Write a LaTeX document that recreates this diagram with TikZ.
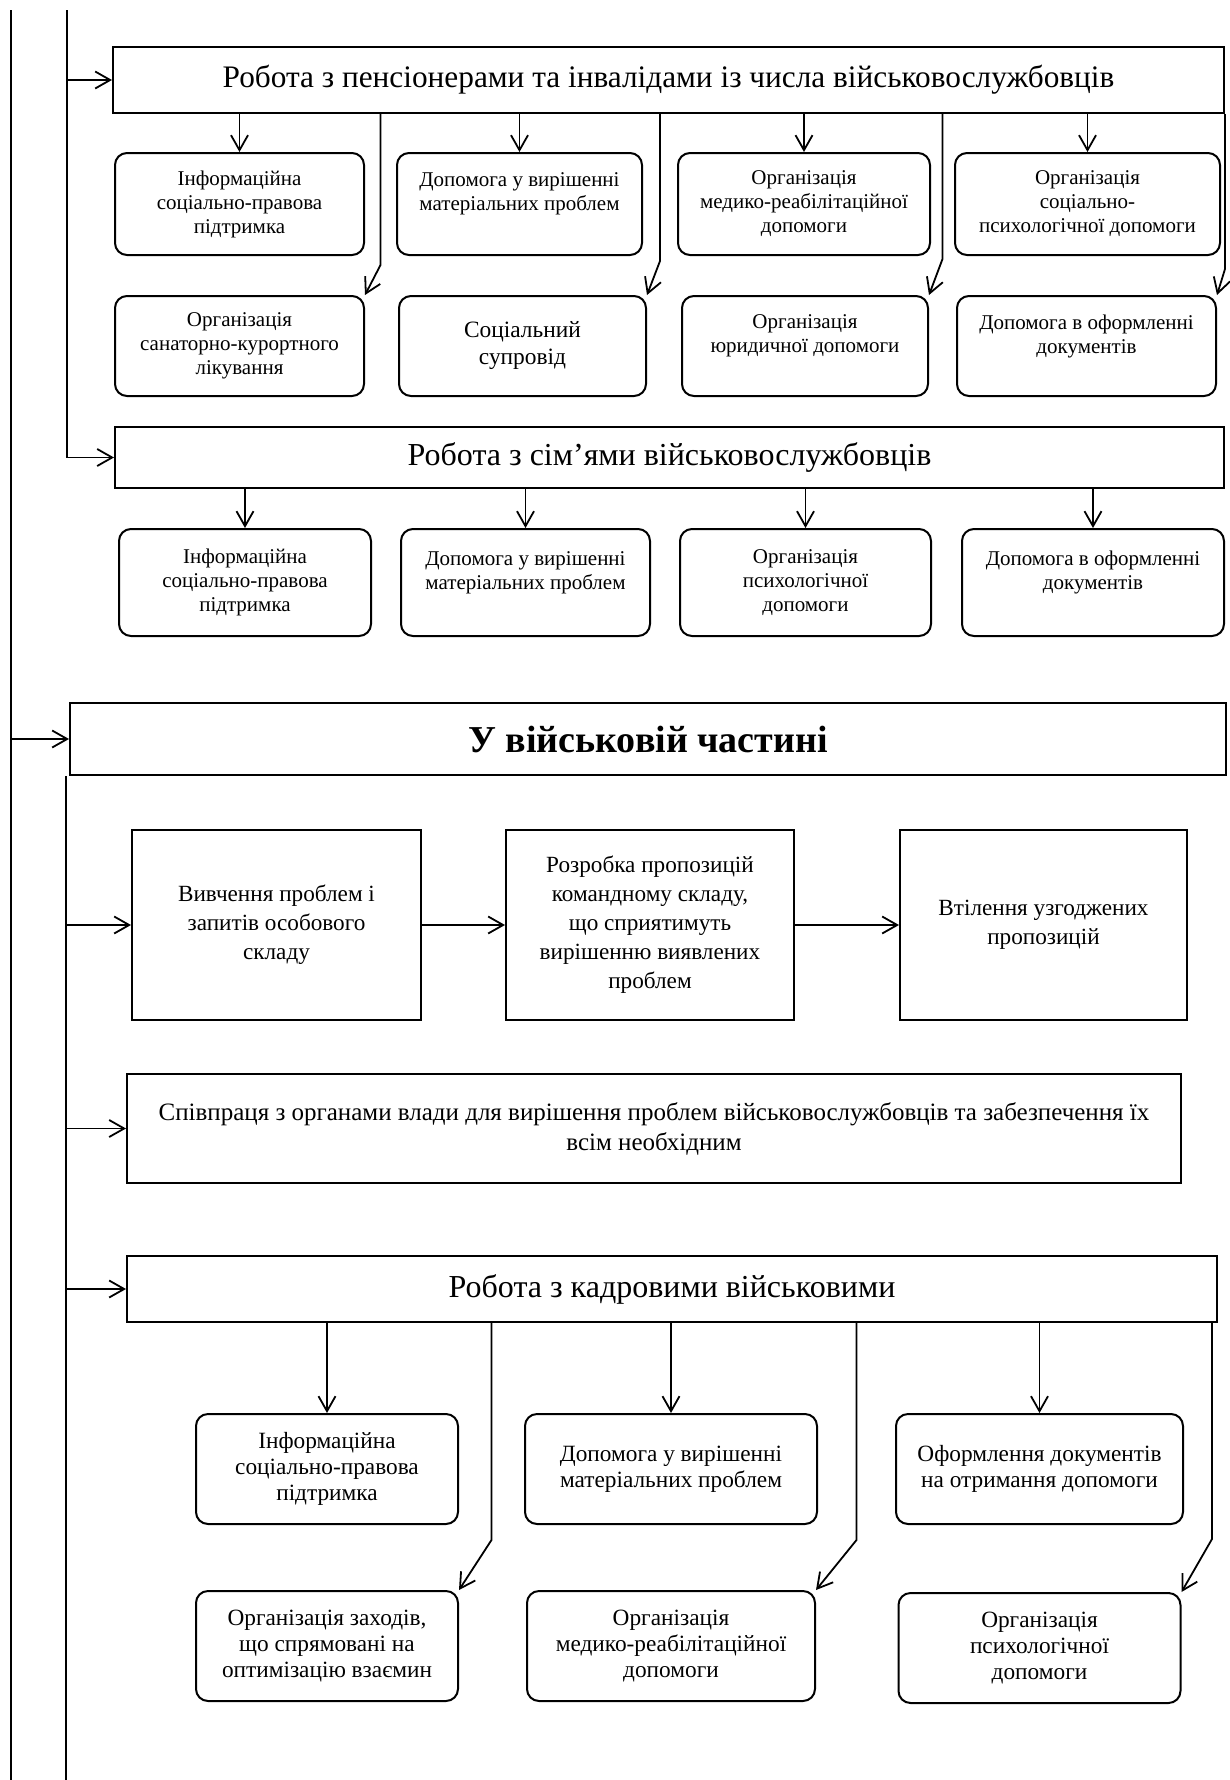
\documentclass[tikz,border=0pt]{standalone}
\usepackage{fontspec}
\setmainfont{Liberation Serif}
\usetikzlibrary{positioning,arrows.meta,calc}

\begin{document}
\begin{tikzpicture}[x=1pt, y=-1pt, >={Straight Barb[length=15pt,width=17pt]},
      hdr/.style={draw, line width=2pt, inner sep=0pt, font=\fontsize{32}{36}\selectfont},
      sub/.style={draw, rounded corners=12pt, line width=2pt, align=center, inner sep=0pt,
                  minimum height=102pt, font=\fontsize{21}{24}\selectfont},
      big/.style={sub, minimum height=110pt, font=\fontsize{23.3}{26}\selectfont},
      proc/.style={draw, line width=2pt, align=center, inner sep=0pt, minimum height=190pt,
                   font=\fontsize{23.2}{29}\selectfont},
      ln/.style={line width=1.8pt}]
    \useasboundingbox (0,0) rectangle (1229,1780);

    % pensioners
    \node[hdr, minimum width=1111pt, minimum height=66pt, font=\fontsize{31.3}{36}\selectfont] (pens) at (668.5,80)
         {Робота з пенсіонерами та інвалідами із числа військовослужбовців};
    \node[sub, minimum width=249pt, below right=38pt and 2pt of pens.south west] (pinf)
         {Інформаційна\\соціально-правова\\підтримка};
    \node[sub, minimum width=245pt, right=31pt of pinf] (pdop)
         {Допомога у вирішенні\\матеріальних проблем\\~};
    \node[sub, minimum width=252pt, right=34pt of pdop] (pmed)
         {Організація\\медико-реабілітаційної\\допомоги};
    \node[sub, minimum width=265pt, right=23pt of pmed] (ppsy)
         {Організація\\соціально-\\психологічної допомоги};
    \node[sub, minimum width=249pt, minimum height=100pt, below=39pt of pinf] (psan)
         {Організація\\санаторно-курортного\\лікування};
    \node[sub, minimum width=247pt, minimum height=100pt, right=33pt of psan,
          font=\fontsize{23.4}{27}\selectfont] (psup) {Соціальний\\супровід};
    \node[sub, minimum width=246pt, minimum height=100pt, right=34pt of psup] (pyur)
         {Організація\\юридичної допомоги\\~};
    \node[sub, minimum width=259pt, minimum height=100pt, right=27pt of pyur] (pdoc)
         {Допомога в оформленні\\документів\\~};

    % families
    \node[hdr, minimum width=1109pt, minimum height=61pt] (simi) at (669.5,457.5)
         {Робота з сім’ями військовослужбовців};
    \node[sub, minimum width=252pt, minimum height=107pt, below right=39pt and 4pt of simi.south west] (sinf)
         {Інформаційна\\соціально-правова\\підтримка};
    \node[sub, minimum width=249pt, minimum height=107pt, right=28pt of sinf] (sdop)
         {Допомога у вирішенні\\матеріальних проблем\\~};
    \node[sub, minimum width=251pt, minimum height=107pt, right=28pt of sdop] (spsy)
         {Організація\\психологічної\\допомоги};
    \node[sub, minimum width=262pt, minimum height=107pt, right=29pt of spsy] (sdoc)
         {Допомога в оформленні\\документів\\~};

    % military unit
    \node[hdr, minimum width=1156pt, minimum height=72pt, font=\fontsize{38}{42}\selectfont\bfseries]
         (chast) at (648,739) {У військовій частині};
    \node[proc, minimum width=289pt, below right=53pt and 62pt of chast.south west] (vyv)
         {Вивчення проблем і\\запитів особового\\складу};
    \node[proc, minimum width=288pt, right=83pt of vyv] (rozr)
         {Розробка пропозицій\\командному складу,\\що сприятимуть\\вирішенню виявлених\\проблем};
    \node[proc, minimum width=287pt, right=104pt of rozr] (vtil)
         {Втілення узгоджених\\пропозицій};
    \node[proc, minimum width=1054pt, minimum height=109pt, font=\fontsize{25}{30}\selectfont]
         (spiv) at (654,1128.5)
         {Співпраця з органами влади для вирішення проблем військовослужбовців та забезпечення їх\\всім необхідним};
    \node[hdr, minimum width=1090pt, minimum height=66pt] (kadr) at (672,1289)
         {Робота з кадровими військовими};
    \node[big, minimum width=262pt, below right=90pt and 69pt of kadr.south west] (kinf)
         {Інформаційна\\соціально-правова\\підтримка};
    \node[big, minimum width=292pt, right=65pt of kinf] (kdop)
         {Допомога у вирішенні\\матеріальних проблем};
    \node[big, minimum width=287pt, right=77pt of kdop] (kofm)
         {Оформлення документів\\на отримання допомоги};
    \node[big, minimum width=262pt, below=65pt of kinf] (kzah)
         {Організація заходів,\\що спрямовані на\\оптимізацію взаємин};
    \node[big, minimum width=288pt, below=65pt of kdop] (kmed)
         {Організація\\медико-реабілітаційної\\допомоги};
    \node[big, minimum width=282pt, below=67pt of kofm] (kpsy)
         {Організація\\психологічної\\допомоги};

    % trunk lines
    \coordinate (top1) at (11,10);
    \coordinate (top2) at (67,10);
    \coordinate (bot) at (0,1780);
    \coordinate (low2) at ([xshift=-3pt]chast.south west);
    \draw[ln] (top1) -- (top1 |- bot);
    \draw[ln,->] (top2) |- (simi.west);
    \draw[ln,->] (top2 |- pens.west) -- (pens.west);
    \draw[ln,->] (top1 |- chast.west) -- (chast.west);
    \draw[ln] (low2) -- (low2 |- bot);
    \foreach \n in {vyv, spiv, kadr}
      \draw[ln,->] (low2 |- \n.west) -- (\n.west);
    \draw[ln,->] (vyv) -- (rozr);
    \draw[ln,->] (rozr) -- (vtil);

    % straight arrows
    \foreach \n in {pinf, pdop, pmed, ppsy}
      \draw[ln,->] (\n |- pens.south) -- (\n);
    \foreach \n in {sinf, sdop, spsy, sdoc}
      \draw[ln,->] (\n |- simi.south) -- (\n);
    \foreach \n in {kinf, kdop, kofm}
      \draw[ln,->] (\n |- kadr.south) -- (\n);

    % bent arrows
    \coordinate (g1) at ($(pinf.east)!.5!(pdop.west)$);
    \coordinate (g2) at ($(pdop.east)!.5!(pmed.west)$);
    \coordinate (g3) at ($(pmed.east)!.5!(ppsy.west)$);
    \coordinate (g4) at (pens.south east);
    \draw[ln,->] (g1 |- pens.south) -- ($(g1 |- psan.north)+(0,-30)$) -- (psan.north east);
    \draw[ln,->] (g2 |- pens.south) -- ($(g2 |- psup.north)+(0,-34)$) -- (psup.north east);
    \draw[ln,->] (g3 |- pens.south) -- ($(g3 |- pyur.north)+(0,-36)$) -- (pyur.north east);
    \draw[ln,->] (g4) -- ($(g4 |- pdoc.north)+(0,-26)$) -- (pdoc.north east);

    \coordinate (k1) at ($(kinf.east)!.5!(kdop.west)$);
    \coordinate (k2) at ($(kdop.east)!.5!(kofm.west)$);
    \coordinate (k3) at ([xshift=-6pt]kadr.south east);
    \draw[ln,->] (k1 |- kadr.south) -- ($(k1 |- kzah.north)+(0,-50)$) -- (kzah.north east);
    \draw[ln,->] (k2 |- kadr.south) -- ($(k2 |- kmed.north)+(0,-50)$) -- (kmed.north east);
    \draw[ln,->] (k3) -- ($(k3 |- kpsy.north)+(0,-53)$) -- (kpsy.north east);
  \end{tikzpicture}
\end{document}
